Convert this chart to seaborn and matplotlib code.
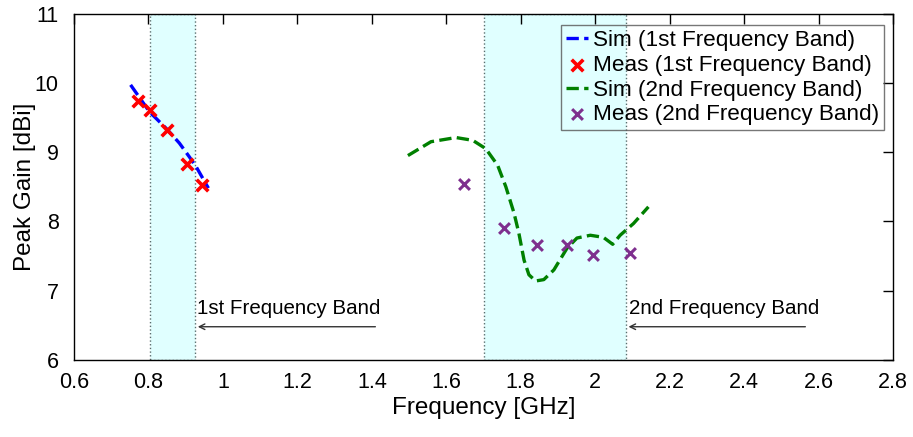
import numpy as np
import pandas as pd
import matplotlib
matplotlib.use("Agg")
import matplotlib.pyplot as plt
import seaborn as sns

# ---- data ----
sim1_freq = [0.752, 0.803, 0.848, 0.883, 0.910, 0.928, 0.961]
sim1_gain = [9.97, 9.58, 9.34, 9.13, 8.93, 8.79, 8.48]

meas1_freq = [0.773, 0.803, 0.849, 0.904, 0.944]
meas1_gain = [9.74, 9.61, 9.32, 8.83, 8.52]

sim2_freq = [1.497, 1.559, 1.626, 1.671, 1.706, 1.738, 1.760, 1.782, 1.795, 1.809,
             1.822, 1.840, 1.862, 1.889, 1.924, 1.951, 1.987, 2.022, 2.047, 2.067,
             2.103, 2.143]
sim2_gain = [8.95, 9.15, 9.21, 9.17, 9.05, 8.81, 8.50, 8.12, 7.83, 7.44,
             7.23, 7.14, 7.16, 7.30, 7.61, 7.76, 7.80, 7.77, 7.67, 7.80,
             7.97, 8.21]

meas2_freq = [1.647, 1.755, 1.844, 1.924, 1.994, 2.093]
meas2_gain = [8.54, 7.91, 7.66, 7.66, 7.51, 7.55]

band1 = [0.805, 0.925]
band2 = [1.702, 2.082]

labels = ["Sim (1st Frequency Band)", "Meas (1st Frequency Band)",
          "Sim (2nd Frequency Band)", "Meas (2nd Frequency Band)"]
xticks = [0.6, 0.8, 1.0, 1.2, 1.4, 1.6, 1.8, 2.0, 2.2, 2.4, 2.6, 2.8]
xticklabels = ["0.6", "0.8", "1", "1.2", "1.4", "1.6", "1.8", "2", "2.2", "2.4", "2.6", "2.8"]
yticks = [6, 7, 8, 9, 10, 11]

# ---- style ----
sns.set_style("white")
plt.rcParams["font.family"] = ["Liberation Sans", "DejaVu Sans"]
plt.rcParams["xtick.direction"] = "in"
plt.rcParams["ytick.direction"] = "in"
plt.rcParams["text.color"] = "black"
plt.rcParams["axes.labelcolor"] = "black"
plt.rcParams["xtick.color"] = "black"
plt.rcParams["ytick.color"] = "black"

fig = plt.figure(figsize=(9.13, 4.37), dpi=100)
ax = fig.add_axes([74 / 913, 1 - 360 / 437, 819 / 913, 346.5 / 437])

for b in (band1, band2):
    ax.axvspan(b[0], b[1], facecolor="#e0ffff", edgecolor="#5a6e6e",
               linestyle=":", linewidth=1.0, zorder=0)

df_s1 = pd.DataFrame({"f": sim1_freq, "g": sim1_gain})
df_m1 = pd.DataFrame({"f": meas1_freq, "g": meas1_gain})
df_s2 = pd.DataFrame({"f": sim2_freq, "g": sim2_gain})
df_m2 = pd.DataFrame({"f": meas2_freq, "g": meas2_gain})

sns.lineplot(data=df_s1, x="f", y="g", ax=ax, color="#0000ff", lw=2.4,
             linestyle="--", sort=False, estimator=None, label=labels[0], zorder=3)
sns.scatterplot(data=df_m1, x="f", y="g", ax=ax, color="#ff0000", marker="x",
                s=70, linewidth=2.6, label=labels[1], zorder=4)
sns.lineplot(data=df_s2, x="f", y="g", ax=ax, color="#008000", lw=2.4,
             linestyle="--", sort=False, estimator=None, label=labels[2], zorder=3)
sns.scatterplot(data=df_m2, x="f", y="g", ax=ax, color="#7e2f8e", marker="x",
                s=60, linewidth=2.2, label=labels[3], zorder=4)

ax.set_xlim(0.6, 2.8)
ax.set_ylim(6, 11)
ax.set_xticks(xticks)
ax.set_xticklabels(xticklabels)
ax.set_yticks(yticks)
ax.tick_params(axis="both", which="both", labelsize=15.5, length=7, width=1,
               top=True, right=True, color="black")
ax.tick_params(axis="x", pad=8.5)
ax.tick_params(axis="y", pad=11)
ax.set_xlabel("Frequency [GHz]", fontsize=17.5, labelpad=3)
ax.set_ylabel("Peak Gain [dBi]", fontsize=17.5, labelpad=-1)
for sp in ax.spines.values():
    sp.set_color("black")
    sp.set_linewidth(1.0)

# annotations
ax.annotate("", xy=(band1[1], 6.48), xytext=(1.417, 6.48),
            arrowprops=dict(arrowstyle="->", color="#333333", lw=1.0))
ax.text(0.931, 6.75, "1st Frequency Band", fontsize=14.8, va="center", ha="left",
        color="black")
ax.annotate("", xy=(band2[1], 6.48), xytext=(2.572, 6.48),
            arrowprops=dict(arrowstyle="->", color="#333333", lw=1.0))
ax.text(2.092, 6.75, "2nd Frequency Band", fontsize=14.8, va="center", ha="left",
        color="black")

leg = ax.legend(loc="upper right", bbox_to_anchor=(0.989, 0.967), fontsize=16.2,
                handlelength=1.0, handletextpad=0.2, borderpad=0.22,
                labelspacing=0.17, borderaxespad=0.0, frameon=True, fancybox=False)
leg.get_frame().set_facecolor("none")
leg.get_frame().set_edgecolor("#555555")
leg.get_frame().set_linewidth(1.0)
for t in leg.get_texts():
    t.set_color("black")

fig.savefig("out.png", dpi=100)
